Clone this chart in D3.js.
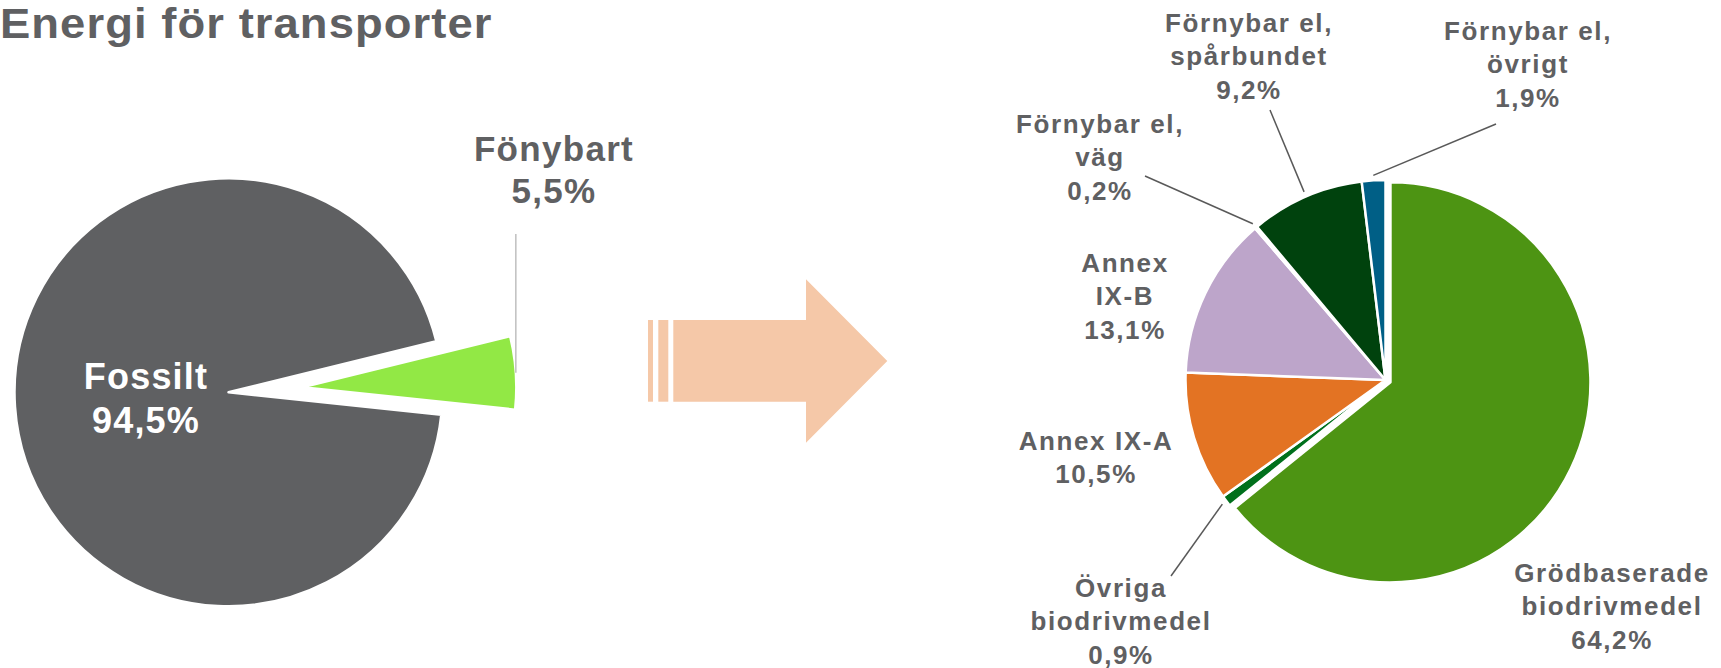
<!DOCTYPE html>
<html><head><meta charset="utf-8">
<script src="https://cdn.jsdelivr.net/npm/d3@7"></script>
<style>
html,body{margin:0;padding:0;background:#fff;}
svg{display:block;font-family:"Liberation Sans",Arial,Helvetica,sans-serif;font-weight:bold;}
</style>
</head><body>
<svg id="c" width="1721" height="668"></svg>
<script>
// ---------- data ----------
const title = "Energi för transporter";
const leftCategories = ["Fossilt", "Fönybart"];
const leftValues = [94.5, 5.5];
const rightCategories = [
  "Grödbaserade biodrivmedel",
  "Övriga biodrivmedel",
  "Annex IX-A",
  "Annex IX-B",
  "Förnybar el, väg",
  "Förnybar el, spårbundet",
  "Förnybar el, övrigt"
];
const rightValues = [64.2, 0.9, 10.5, 13.1, 0.2, 9.2, 1.9];
const rightLabelLines = [
  ["Grödbaserade", "biodrivmedel"],
  ["Övriga", "biodrivmedel"],
  ["Annex IX-A"],
  ["Annex", "IX-B"],
  ["Förnybar el,", "väg"],
  ["Förnybar el,", "spårbundet"],
  ["Förnybar el,", "övrigt"]
];

// ---------- styles / layout ----------
const textGray = "#5f6062";
const leftColors = ["#5f6062", "#92e845"];
const rightColors = ["#4d9413", "#00701c", "#e37323", "#bda5ca", "#385c1c", "#00420d", "#005f86"];
const arrowColor = "#f5c8a8";
const deg = Math.PI / 180;
const fmt = v => d3.format(".1f")(v).replace(".", ",") + "%";

const L = {cx: 228.5, cy: 392.3, r: 214, start: 96 * deg, explodeIdx: 1, explode: 74};
const R = {cx: 1385.5, cy: 380, r: 200, start: 0, explodeIdx: 0, explode: 5.5};

const svg = d3.select("#c");

// title (slightly widened glyphs like the reference)
svg.append("text")
  .attr("transform", "translate(0,38) scale(1.08,1)")
  .attr("x", 0).attr("y", 0)
  .attr("fill", textGray)
  .attr("font-size", 42)
  .attr("letter-spacing", 1.0)
  .text(title);

function drawPie(cfg, values, colors) {
  const pie = d3.pie().sort(null).value(d => d)
    .startAngle(cfg.start).endAngle(cfg.start + 2 * Math.PI);
  const arcs = pie(values);
  const arc = d3.arc().innerRadius(0).outerRadius(cfg.r);
  const g = svg.append("g").attr("transform", `translate(${cfg.cx},${cfg.cy})`);
  arcs.forEach((a, i) => {
    const mid = (a.startAngle + a.endAngle) / 2;
    a.mid = mid;
    a.off = i === cfg.explodeIdx ? cfg.explode : 0;
    a.ox = Math.sin(mid) * a.off;
    a.oy = -Math.cos(mid) * a.off;
  });
  g.selectAll("path").data(arcs).join("path")
    .attr("d", arc)
    .attr("transform", d => `translate(${d.ox},${d.oy})`)
    .attr("fill", (d, i) => colors[i])
    .attr("stroke", "#fff")
    .attr("stroke-width", 2.5)
    .attr("stroke-linejoin", "round");
  arcs.forEach(a => {
    a.edge = k => [cfg.cx + a.ox + Math.sin(a.mid) * (cfg.r + k),
                   cfg.cy + a.oy - Math.cos(a.mid) * (cfg.r + k)];
  });
  return arcs;
}

// ---------- left pie ----------
const leftArcs = drawPie(L, leftValues, leftColors);

const fossLbl = svg.append("text")
  .attr("fill", "#fff").attr("font-size", 36).attr("letter-spacing", 1.2)
  .attr("text-anchor", "middle");
[leftCategories[0], fmt(leftValues[0])].forEach((t, j) =>
  fossLbl.append("tspan").attr("x", 146).attr("y", 389.3 + j * 43.4).text(t));

const gp = leftArcs[1].edge(0);
svg.append("line")
  .attr("x1", gp[0]).attr("y1", gp[1])
  .attr("x2", gp[0]).attr("y2", 234)
  .attr("stroke", "#bfbfbf").attr("stroke-width", 1.5);
const renLbl = svg.append("text")
  .attr("fill", textGray).attr("font-size", 35).attr("letter-spacing", 1.3)
  .attr("text-anchor", "middle");
[leftCategories[1], fmt(leftValues[1])].forEach((t, j) =>
  renLbl.append("tspan").attr("x", 554).attr("y", 160.7 + j * 42).text(t));

// ---------- arrow ----------
const ap = d3.path();
ap.moveTo(673.3, 320); ap.lineTo(806, 320); ap.lineTo(806, 279.3);
ap.lineTo(887.3, 361); ap.lineTo(806, 442.7); ap.lineTo(806, 401.7);
ap.lineTo(673.3, 401.7); ap.closePath();
svg.append("path").attr("d", ap.toString()).attr("fill", arrowColor);
[[648, 5], [658.3, 10]].forEach(([x, w]) =>
  svg.append("rect").attr("x", x).attr("y", 320).attr("width", w).attr("height", 81.7).attr("fill", arrowColor));

// ---------- right pie ----------
const rightArcs = drawPie(R, rightValues, rightColors);

// label layout: [centre x, first baseline, leader start or null]
const rightLabelPos = [
  [1612, 581.7, null],
  [1121, 596.7, [1171, 576]],
  [1096, 450, null],
  [1125, 271.7, null],
  [1100, 132.7, [1145, 176]],
  [1249, 31.7, [1270, 110]],
  [1528, 40, [1496, 124]]
];

rightArcs.forEach((a, i) => {
  const [x, y, lead] = rightLabelPos[i];
  if (lead) {
    const e = a.edge(5);
    svg.append("line")
      .attr("x1", lead[0]).attr("y1", lead[1])
      .attr("x2", e[0]).attr("y2", e[1])
      .attr("stroke", "#595959").attr("stroke-width", 1.5);
  }
  const t = svg.append("text")
    .attr("fill", textGray).attr("font-size", 26).attr("letter-spacing", 1.6)
    .attr("text-anchor", "middle");
  rightLabelLines[i].concat([fmt(rightValues[i])]).forEach((s, j) =>
    t.append("tspan").attr("x", x).attr("y", y + j * 33.4).text(s));
});
</script>
</body></html>
